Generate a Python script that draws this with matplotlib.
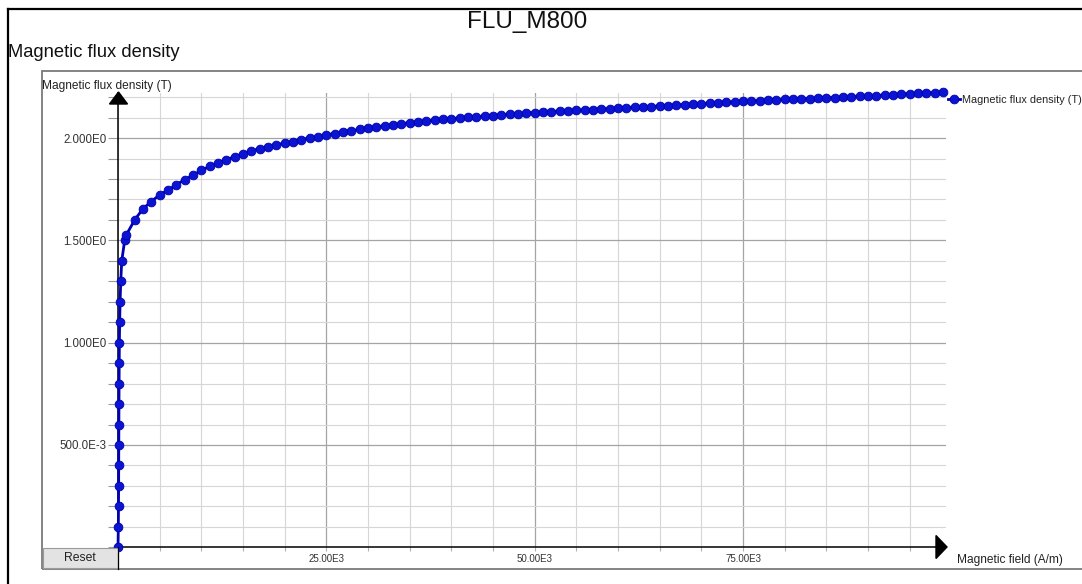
import matplotlib
matplotlib.use("Agg")
import matplotlib.pyplot as plt
from matplotlib.lines import Line2D
from matplotlib.patches import Rectangle, Polygon
from matplotlib.ticker import MultipleLocator, FixedLocator

plt.rcParams['font.family'] = ['Liberation Sans', 'DejaVu Sans']

# B-H curve of FLU_M800
h_field = [0, 40, 60, 75, 85, 95, 105, 115, 130, 145, 165, 200, 250, 330, 450,
           800, 1000,
           2000, 3000, 4000, 5000, 6000, 7000, 8000, 9000, 10000,
           11000, 12000, 13000, 14000, 15000, 16000, 17000, 18000, 19000, 20000,
           21000, 22000, 23000, 24000, 25000, 26000, 27000, 28000, 29000, 30000,
           31000, 32000, 33000, 34000, 35000, 36000, 37000, 38000, 39000, 40000,
           41000, 42000, 43000, 44000, 45000, 46000, 47000, 48000, 49000, 50000,
           51000, 52000, 53000, 54000, 55000, 56000, 57000, 58000, 59000, 60000,
           61000, 62000, 63000, 64000, 65000, 66000, 67000, 68000, 69000, 70000,
           71000, 72000, 73000, 74000, 75000, 76000, 77000, 78000, 79000, 80000,
           81000, 82000, 83000, 84000, 85000, 86000, 87000, 88000, 89000, 90000,
           91000, 92000, 93000, 94000, 95000, 96000, 97000, 98000, 99000]
b_flux = [0.0, 0.1, 0.2, 0.3, 0.4, 0.5, 0.6, 0.7, 0.8, 0.9, 1.0, 1.1, 1.2, 1.3, 1.4,
          1.50, 1.527,
          1.600, 1.655, 1.690, 1.723, 1.745, 1.772, 1.797, 1.818, 1.842,
          1.862, 1.877, 1.894, 1.910, 1.923, 1.937, 1.949, 1.957, 1.967, 1.976,
          1.983, 1.993, 2.001, 2.006, 2.016, 2.022, 2.029, 2.036, 2.043, 2.050,
          2.055, 2.060, 2.065, 2.070, 2.075, 2.079, 2.083, 2.087, 2.091, 2.095,
          2.098, 2.101, 2.104, 2.107, 2.110, 2.113, 2.116, 2.119, 2.122, 2.124,
          2.127, 2.129, 2.131, 2.133, 2.135, 2.137, 2.139, 2.142, 2.144, 2.146,
          2.148, 2.150, 2.152, 2.154, 2.157, 2.159, 2.161, 2.163, 2.165, 2.168,
          2.170, 2.172, 2.174, 2.176, 2.179, 2.181, 2.183, 2.185, 2.187, 2.189,
          2.190, 2.191, 2.193, 2.194, 2.196, 2.198, 2.200, 2.202, 2.204, 2.206,
          2.208, 2.210, 2.212, 2.214, 2.216, 2.218, 2.220, 2.222, 2.224]

y_ticks = [0.5, 1.0, 1.5, 2.0]
y_tick_labels = ['500.0E-3', '1.000E0', '1.500E0', '2.000E0']
x_ticks = [25000, 50000, 75000]
x_tick_labels = ['25.00E3', '50.00E3', '75.00E3']

W, H = 1082, 584


def fx(px):
    return px / W


def fy(py):
    return 1 - py / H


fig = plt.figure(figsize=(W / 100, H / 100), dpi=100)

# frame of the whole window and of the chart panel
fig.add_artist(Line2D([fx(7.5), fx(7.5)], [fy(9), 0], color='black', lw=1.6))
fig.add_artist(Line2D([fx(7.5), 1], [fy(9), fy(9)], color='black', lw=1.6))
fig.add_artist(Rectangle((fx(42), fy(569)), fx(1100) - fx(42), fy(70.5) - fy(569),
                         transform=fig.transFigure, fill=False, edgecolor='#7a7a7a', lw=1.3))

fig.text(fx(527), fy(22), 'FLU_M800', ha='center', va='center', fontsize=17.5, color='#111111')
fig.text(fx(8), fy(57), 'Magnetic flux density', ha='left', va='baseline', fontsize=13.2, color='#111111')

# plot area
ax = fig.add_axes([fx(118), fy(547.3), fx(946) - fx(118), fy(93) - fy(547.3)])
ax.set_xlim(0, 99360)
ax.set_ylim(0, 2.2204)

ax.xaxis.set_major_locator(FixedLocator(x_ticks))
ax.xaxis.set_minor_locator(MultipleLocator(5000))
ax.yaxis.set_major_locator(FixedLocator(y_ticks))
ax.yaxis.set_minor_locator(MultipleLocator(0.1))
ax.set_xticklabels(x_tick_labels)
ax.set_yticklabels(y_tick_labels)

ax.grid(which='minor', color='#d6d6d6', lw=0.8)
ax.grid(which='major', color='#a4a4a4', lw=0.9)
ax.set_axisbelow(True)

ax.tick_params(axis='y', which='both', direction='out', length=7, width=0.8,
               color='#9a9a9a', labelsize=8.3, labelcolor='#333333', pad=1)
ax.tick_params(axis='x', which='both', direction='out', length=3, width=0.8,
               color='#b0b0b0', labelsize=7, labelcolor='#333333', pad=2)

for side in ('top', 'right'):
    ax.spines[side].set_visible(False)
for side in ('left', 'bottom'):
    ax.spines[side].set_color('black')
    ax.spines[side].set_linewidth(1.1)

ax.plot(h_field, b_flux, color='#0000b4', lw=2.0, marker='o', markersize=6.3,
        markerfacecolor='#0a14d2', markeredgecolor='#0000a8', markeredgewidth=0.6,
        clip_on=False, label='Magnetic flux density (T)', zorder=3)

# axis arrows and the axis line below the x axis
fig.add_artist(Polygon([(fx(118.5), fy(92)), (fx(109.5), fy(104)), (fx(127.5), fy(104))],
                       closed=True, transform=fig.transFigure, color='black'))
fig.add_artist(Polygon([(fx(947), fy(547)), (fx(936), fy(535.5)), (fx(936), fy(558.5))],
                       closed=True, transform=fig.transFigure, color='black'))
fig.add_artist(Line2D([fx(118), fx(118)], [fy(547), fy(569)], color='black', lw=0.9))

# reset button
fig.add_artist(Rectangle((fx(42.5), fy(568)), fx(117.5) - fx(42.5), fy(547.5) - fy(568),
                         transform=fig.transFigure, facecolor='#e3e3e3', edgecolor='#9a9a9a', lw=0.8))
fig.text(fx(80), fy(558), 'Reset', ha='center', va='center', fontsize=8.8, color='#222222')

fig.text(fx(957), fy(560.5), 'Magnetic field (A/m)', ha='left', va='center',
         fontsize=8.6, color='#222222')
fig.text(fx(42), fy(86), 'Magnetic flux density (T)', ha='left', va='center',
         fontsize=8.6, color='#222222')

ax.legend(loc='center left', bbox_to_anchor=(fx(948), fy(100)), bbox_transform=fig.transFigure,
          frameon=False, fontsize=7.8, handlelength=1.1, handletextpad=0.2, borderpad=0,
          borderaxespad=0, labelcolor='#222222')

fig.savefig('out.png', dpi=100)
